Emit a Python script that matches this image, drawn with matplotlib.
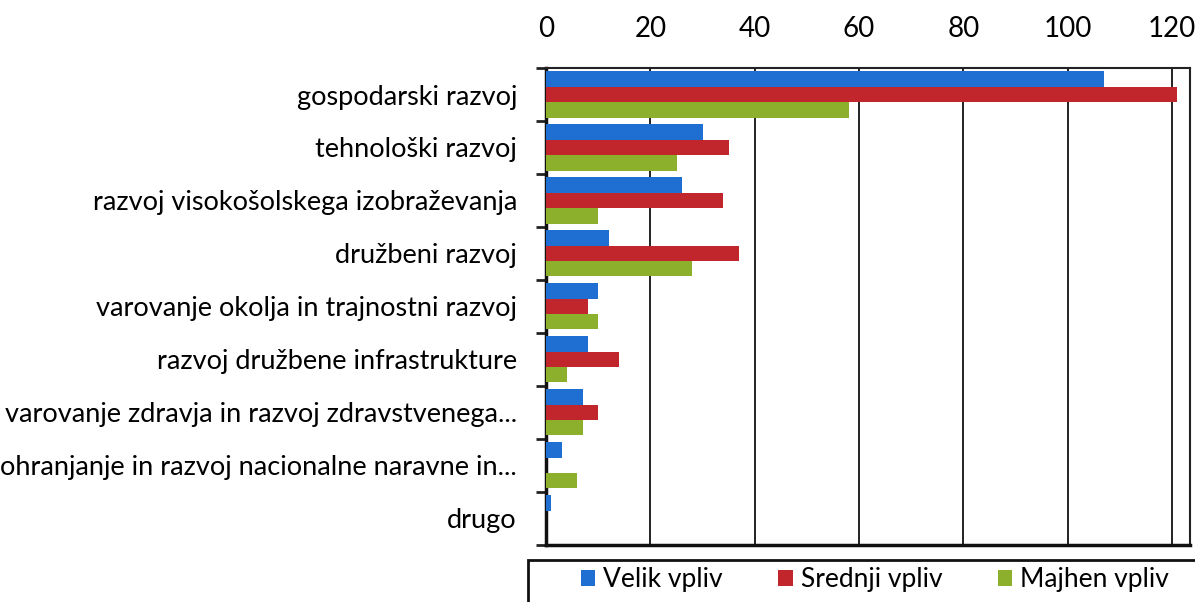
import numpy as np
import matplotlib.pyplot as plt
from matplotlib.patches import Rectangle

categories = [
    "gospodarski razvoj",
    "tehnološki razvoj",
    "razvoj visokošolskega izobraževanja",
    "družbeni razvoj",
    "varovanje okolja in trajnostni razvoj",
    "razvoj družbene infrastrukture",
    "varovanje zdravja in razvoj zdravstvenega...",
    "ohranjanje in razvoj nacionalne naravne in...",
    "drugo",
]
velik = [107, 30, 26, 12, 10, 8, 7, 3, 1]
srednji = [121, 35, 34, 37, 8, 14, 10, 0, 0]
majhen = [58, 25, 10, 28, 10, 4, 7, 6, 0]
series_names = ["Velik vpliv", "Srednji vpliv", "Majhen vpliv"]
colors = ["#1f6fd2", "#c0262c", "#8cb02b"]

plt.rcParams['font.family'] = ['Lato', 'DejaVu Sans']

fig = plt.figure(figsize=(11.95, 6.02), dpi=100)
ax = fig.add_axes([0.457, 0.095, 0.539, 0.792])

y = np.arange(len(categories))
h = 0.29
for i, (vals, name, c) in enumerate(zip([velik, srednji, majhen], series_names, colors)):
    ax.barh(y + (i - 1) * h, vals, height=h, color=c, label=name, zorder=3)

ax.set_ylim(len(categories) - 0.5, -0.5)
ax.set_xlim(0, 123.5)

# x axis on top
ax.xaxis.tick_top()
ax.set_xticks(range(0, 121, 20))
ax.tick_params(axis='x', length=0, pad=19, labelsize=20)
ax.grid(axis='x', color='#222222', linewidth=1.4, zorder=1)

# category labels, ticks at boundaries
ax.set_yticks(y)
ax.set_yticklabels(categories, fontsize=19.5)
ax.tick_params(axis='y', length=0, pad=21)
ax.set_yticks(np.arange(-0.5, len(categories), 1), minor=True)
ax.tick_params(axis='y', which='minor', length=7, width=2, color='#222222')

for side in ['left', 'bottom']:
    ax.spines[side].set_linewidth(2.5)
    ax.spines[side].set_color('#111111')
for side in ['top', 'right']:
    ax.spines[side].set_linewidth(1.5)
    ax.spines[side].set_color('#222222')

# legend box at the bottom
fig.patches.append(Rectangle((528 / 1195, -0.02), 0.6, 0.09, transform=fig.transFigure,
                             fill=False, edgecolor='#111111', linewidth=2))
handles, labels = ax.get_legend_handles_labels()
fig.legend(handles, labels, loc='center left', bbox_to_anchor=(0.466, 0.037), ncol=3,
           frameon=False, fontsize=19, handlelength=0.55, handleheight=0.55,
           handletextpad=0.3, columnspacing=2.1)

fig.savefig('out.png', dpi=100)
